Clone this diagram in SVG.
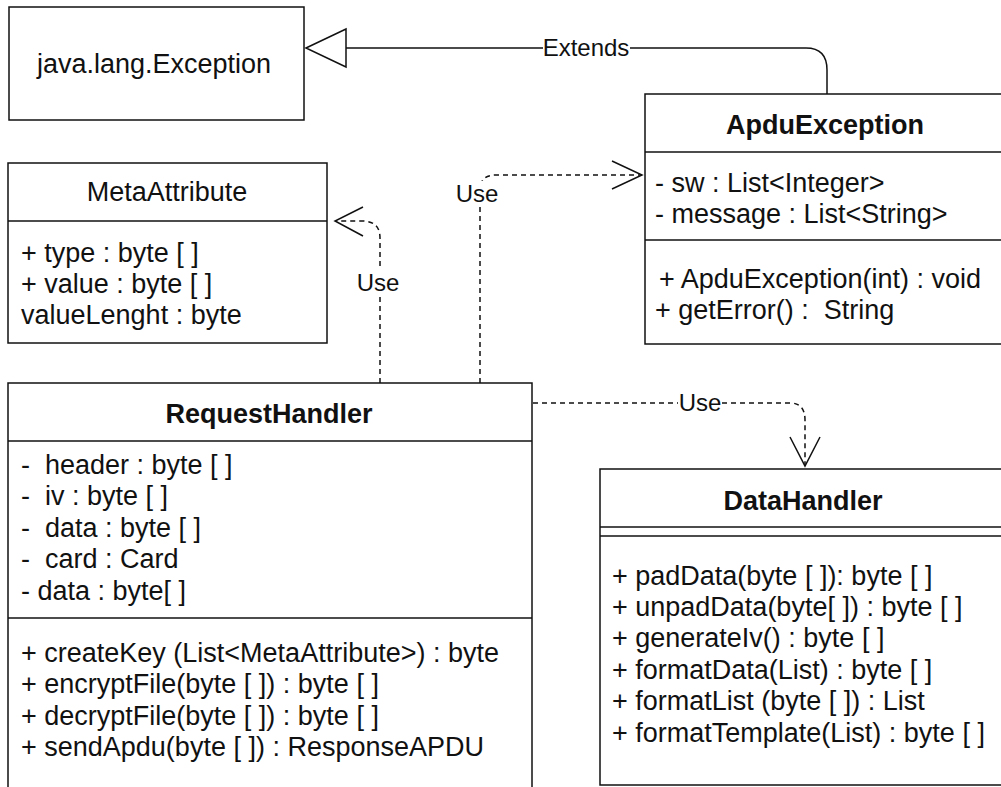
<svg xmlns="http://www.w3.org/2000/svg" width="1001" height="787" viewBox="0 0 1001 787">
<style>
.box{fill:#fff;stroke:#111;stroke-width:1.5}
.ln{stroke:#111;stroke-width:1.5;fill:none}
.dash{stroke:#111;stroke-width:1.5;fill:none;stroke-dasharray:5 4}
text{font-family:"Liberation Sans",Arial,sans-serif;font-size:27px;fill:#111;white-space:pre}
.t{font-weight:bold;text-anchor:middle}
.c{text-anchor:middle}
.lbl{font-size:24px;text-anchor:middle}
.bg{fill:#fff}
</style>
<rect width="1001" height="787" fill="#fff"/>
<g id="connectors">
  <path class="ln" d="M346,48 H806 Q827,48 827,70 V94"/>
  <polygon points="306,48 346,29 346,67" fill="#fff" stroke="#111" stroke-width="1.5"/>
  <rect class="bg" x="543" y="36" width="87" height="24"/>
  <text class="lbl" x="586" y="56">Extends</text>

  <path class="dash" d="M380,383 V238 Q380,221 362,221 H336"/>
  <path class="ln" d="M363,207 L335,221 L363,236"/>
  <rect class="bg" x="356" y="270" width="44" height="26"/>
  <text class="lbl" x="378" y="291">Use</text>

  <path class="dash" d="M480,383 V190 Q480,175 496,175 H642"/>
  <path class="ln" d="M612,161 L642,175 L612,189"/>
  <rect class="bg" x="455" y="181" width="44" height="26"/>
  <text class="lbl" x="477" y="202">Use</text>

  <path class="dash" d="M533,403 H790 Q805,403 805,420 V466"/>
  <path class="ln" d="M790,437 L805,466 L820,437"/>
  <rect class="bg" x="678" y="390" width="44" height="26"/>
  <text class="lbl" x="700" y="411">Use</text>
</g>
<g id="java-lang-exception">
  <rect class="box" x="9" y="7" width="295" height="113"/>
  <text class="c" x="154" y="73">java.lang.Exception</text>
</g>
<g id="apdu-exception">
  <rect class="box" x="645" y="94" width="370" height="250"/>
  <line class="ln" x1="645" y1="152" x2="1015" y2="152"/>
  <line class="ln" x1="645" y1="240" x2="1015" y2="240"/>
  <text class="t" x="825" y="134">ApduException</text>
  <text x="655" y="192">- sw : List&lt;Integer&gt;</text>
  <text x="655" y="223">- message : List&lt;String&gt;</text>
  <text x="659" y="288">+ ApduException(int) : void</text>
  <text x="655" y="319">+ getError() :  String</text>
</g>
<g id="meta-attribute">
  <rect class="box" x="8" y="163" width="319" height="180"/>
  <line class="ln" x1="8" y1="221" x2="327" y2="221"/>
  <text class="c" x="167" y="201">MetaAttribute</text>
  <text x="21" y="262">+ type : byte [ ]</text>
  <text x="21" y="293">+ value : byte [ ]</text>
  <text x="21" y="324">valueLenght : byte</text>
</g>
<g id="request-handler">
  <rect class="box" x="8" y="383" width="524" height="420"/>
  <line class="ln" x1="8" y1="441" x2="532" y2="441"/>
  <line class="ln" x1="8" y1="618" x2="532" y2="618"/>
  <text class="t" x="269" y="423">RequestHandler</text>
  <text x="21" y="474">-  header : byte [ ]</text>
  <text x="21" y="505">-  iv : byte [ ]</text>
  <text x="21" y="537">-  data : byte [ ]</text>
  <text x="21" y="568">-  card : Card</text>
  <text x="21" y="600">- data : byte[ ]</text>
  <text x="21" y="662">+ createKey (List&lt;MetaAttribute&gt;) : byte</text>
  <text x="21" y="693">+ encryptFile(byte [ ]) : byte [ ]</text>
  <text x="21" y="725">+ decryptFile(byte [ ]) : byte [ ]</text>
  <text x="21" y="756">+ sendApdu(byte [ ]) : ResponseAPDU</text>
</g>
<g id="data-handler">
  <rect class="box" x="600" y="469" width="410" height="316"/>
  <line class="ln" x1="600" y1="527" x2="1010" y2="527"/>
  <line class="ln" x1="600" y1="536" x2="1010" y2="536"/>
  <text class="t" x="803" y="510">DataHandler</text>
  <text x="612" y="585">+ padData(byte [ ]): byte [ ]</text>
  <text x="612" y="616">+ unpadData(byte[ ]) : byte [ ]</text>
  <text x="612" y="647">+ generateIv() : byte [ ]</text>
  <text x="612" y="679">+ formatData(List) : byte [ ]</text>
  <text x="612" y="710">+ formatList (byte [ ]) : List</text>
  <text x="612" y="742">+ formatTemplate(List) : byte [ ]</text>
</g>
</svg>
